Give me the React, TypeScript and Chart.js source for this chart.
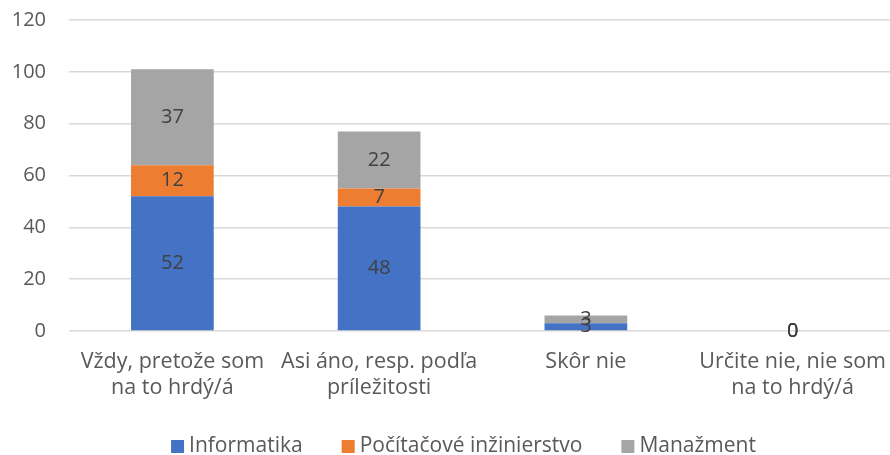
import React, { useEffect, useRef } from "react";
import { Chart, registerables } from "chart.js";

Chart.register(...registerables);

const categories: string[][] = [
  ["Vždy, pretože som", "na to hrdý/á"],
  ["Asi áno, resp. podľa", "príležitosti"],
  ["Skôr nie"],
  ["Určite nie, nie som", "na to hrdý/á"],
];
const informatika: (number | null)[] = [52, 48, 3, 0];
const pocitacove: (number | null)[] = [12, 7, null, 0];
const manazment: (number | null)[] = [37, 22, 3, 0];
const seriesNames = ["Informatika", "Počítačové inžinierstvo", "Manažment"];
const seriesColors = ["#4472C4", "#ED7D31", "#A5A5A5"];
const yMin = 0;
const yMax = 120;
const yStep = 20;

const FONT = "'Open Sans', sans-serif";

const dataLabelPlugin = {
  id: "dataLabels",
  afterDatasetsDraw(chart: any) {
    const ctx = chart.ctx;
    ctx.save();
    ctx.font = `20px ${FONT}`;
    ctx.fillStyle = "#404040";
    ctx.textAlign = "center";
    ctx.textBaseline = "middle";
    chart.data.datasets.forEach((ds: any, di: number) => {
      const meta = chart.getDatasetMeta(di);
      meta.data.forEach((el: any, i: number) => {
        const v = ds.data[i];
        if (v === null || v === undefined) return;
        const y = (el.y + el.base) / 2;
        ctx.fillText(String(v), el.x, y);
      });
    });
    ctx.restore();
  },
};

const customLegendPlugin = {
  id: "customLegend",
  afterDraw(chart: any) {
    const ctx = chart.ctx;
    ctx.save();
    ctx.font = `21px ${FONT}`;
    const box = 13;
    const gapBoxText = 5;
    const gapItems = 39;
    const widths = seriesNames.map((n) => ctx.measureText(n).width);
    const total =
      widths.reduce((a, w) => a + box + gapBoxText + w, 0) + gapItems * (seriesNames.length - 1);
    let x = 463.5 - total / 2;
    const cy = 446;
    ctx.textBaseline = "middle";
    ctx.textAlign = "left";
    seriesNames.forEach((n, i) => {
      ctx.fillStyle = seriesColors[i];
      ctx.fillRect(x, cy - 6, box, box);
      x += box + gapBoxText;
      ctx.fillStyle = "#595959";
      ctx.fillText(n, x, cy);
      x += widths[i] + gapItems;
    });
    ctx.restore();
  },
};

export default function App() {
  const ref = useRef<HTMLCanvasElement | null>(null);
  useEffect(() => {
    document.body.style.margin = "0";
    if (!ref.current) return;
    const chart = new Chart(ref.current, {
      type: "bar",
      data: {
        labels: categories,
        datasets: [informatika, pocitacove, manazment].map((d, i) => ({
          label: seriesNames[i],
          data: d,
          backgroundColor: seriesColors[i],
          borderWidth: 0,
          barPercentage: 0.4,
          categoryPercentage: 1,
        })),
      },
      options: {
        responsive: false,
        animation: false,
        layout: { padding: { top: 20, left: 0, right: 0, bottom: 40 } },
        plugins: {
          legend: { display: false },
          tooltip: { enabled: false },
        },
        scales: {
          x: {
            stacked: true,
            grid: { display: false },
            border: { display: false },
            ticks: {
              color: "#595959",
              font: { family: FONT, size: 21.5, lineHeight: 1.2 },
              padding: 10,
              maxRotation: 0,
              autoSkip: false,
            },
            afterFit: (s: any) => {
              s.height = 84;
              s.paddingLeft = 0;
              s.paddingRight = 0;
            },
          },
          y: {
            stacked: true,
            min: yMin,
            max: yMax,
            ticks: {
              stepSize: yStep,
              color: "#595959",
              font: { family: FONT, size: 20 },
              padding: 23,
            },
            grid: { color: "#D9D9D9", lineWidth: 1.5, drawTicks: false },
            border: { display: false },
            afterFit: (s: any) => {
              s.width = 69;
              s.paddingTop = 0;
              s.paddingBottom = 0;
            },
          },
        },
      },
      plugins: [dataLabelPlugin, customLegendPlugin],
    });
    return () => chart.destroy();
  }, []);
  return (
    <div style={{ width: 890, height: 455, overflow: "hidden", background: "#fff" }}>
      <canvas ref={ref} width={896} height={455} style={{ display: "block" }} />
    </div>
  );
}
